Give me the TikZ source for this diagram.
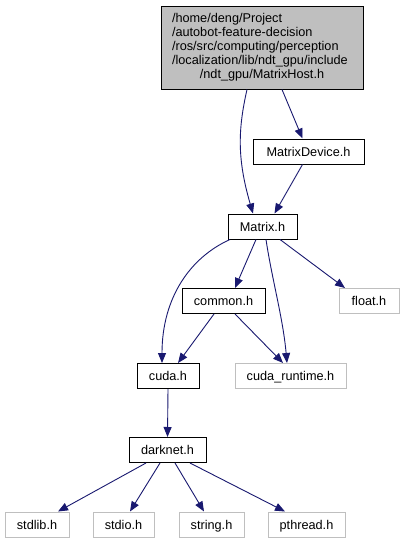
\documentclass[tikz,border=0pt]{standalone}
\usepackage{fontspec}
\setmainfont{Liberation Sans}
\usetikzlibrary{arrows.meta}
\definecolor{edgeblue}{RGB}{25, 25, 112}
\definecolor{extgrey}{RGB}{191, 191, 191}
\tikzset{
  filebox/.style={rectangle, draw=black, fill=white, line width=1pt,
                  minimum width=#1, minimum height=25pt, inner sep=0pt,
                  text height=9pt, text depth=0pt, font=\fontsize{12.7}{14}\selectfont},
  filebox/.default=70pt,
  extbox/.style={filebox=#1, draw=extgrey},
  extbox/.default=62pt,
  rootbox/.style={rectangle, draw=black, fill=extgrey, line width=1pt,
                  minimum width=202pt, minimum height=83pt, inner sep=0pt,
                  font=\fontsize{12.7}{14}\selectfont},
  arrow/.style={-{Triangle[length=10pt, width=8pt]}, line width=0.9pt, color=edgeblue},
}

\begin{document}
\begin{tikzpicture}[x=1pt, y=-1pt]
  \fill[white] (0,0) rectangle (404,544);

  % Includer
  \node[rootbox] (host) at (262,47.5) {\begin{tabular}{@{}p{180pt}@{}}
      /home/deng/Project\\
      /autobot-feature-decision\\
      /ros/src/computing/perception\\
      /localization/lib/ndt\_gpu/include\\
      \multicolumn{1}{@{}c@{}}{/ndt\_gpu/MatrixHost.h}
    \end{tabular}};

  % Project headers
  \node[filebox=111pt] (mdev) at (308.5,151.5) {MatrixDevice.h};
  \node[filebox=69pt] (matrix) at (262.5,226.5) {Matrix.h};
  \node[filebox=83pt] (common) at (223.5,301) {common.h};
  \node[filebox=62pt] (cuda) at (168,376) {cuda.h};
  \node[filebox=77pt] (darknet) at (167.5,450) {darknet.h};

  % System headers
  \node[extbox=60pt] (float) at (369,301) {float.h};
  \node[extbox=111pt] (cudart) at (290.5,376) {cuda\_runtime.h};
  \node[extbox=64pt] (stdlib) at (37,524.5) {stdlib.h};
  \node[extbox=61pt] (stdio) at (123.5,524.5) {stdio.h};
  \node[extbox=65pt] (string) at (211.5,524.5) {string.h};
  \node[extbox=77pt] (pthread) at (306.5,524.5) {pthread.h};

  % Includes
  \draw[arrow] ([xshift=-15pt]host.south) .. controls +(-9,40) and +(-16,-55) .. ([xshift=-9.5pt]matrix.north);
  \draw[arrow] ([xshift=20pt]host.south) -- ([xshift=-6pt]mdev.north);
  \draw[arrow] ([xshift=-6pt]mdev.south) -- ([xshift=12pt]matrix.north);

  \draw[arrow] ([xshift=-32.5pt]matrix.south) .. controls +(-40,18) and +(0,-65) .. ([xshift=-6pt]cuda.north);
  \draw[arrow] ([xshift=-6.5pt]matrix.south) -- ([xshift=11.5pt]common.north);
  \draw[arrow] ([xshift=3.5pt]matrix.south) .. controls +(6,40) and +(-4,-45) .. ([xshift=-3.5pt]cudart.north);
  \draw[arrow] ([xshift=17.5pt]matrix.south) -- ([xshift=-24pt]float.north);

  \draw[arrow] ([xshift=-9.5pt]common.south) -- ([xshift=10pt]cuda.north);
  \draw[arrow] ([xshift=11.5pt]common.south) -- ([xshift=-7.5pt]cudart.north);

  \draw[arrow] (cuda.south) -- (darknet.north);

  \draw[arrow] ([xshift=-21.5pt]darknet.south) -- ([xshift=21pt]stdlib.north);
  \draw[arrow] ([xshift=-7.5pt]darknet.south) -- ([xshift=6.5pt]stdio.north);
  \draw[arrow] ([xshift=7.5pt]darknet.south) -- ([xshift=-7.5pt]string.north);
  \draw[arrow] ([xshift=22.5pt]darknet.south) -- ([xshift=-21.5pt]pthread.north);
\end{tikzpicture}
\end{document}
